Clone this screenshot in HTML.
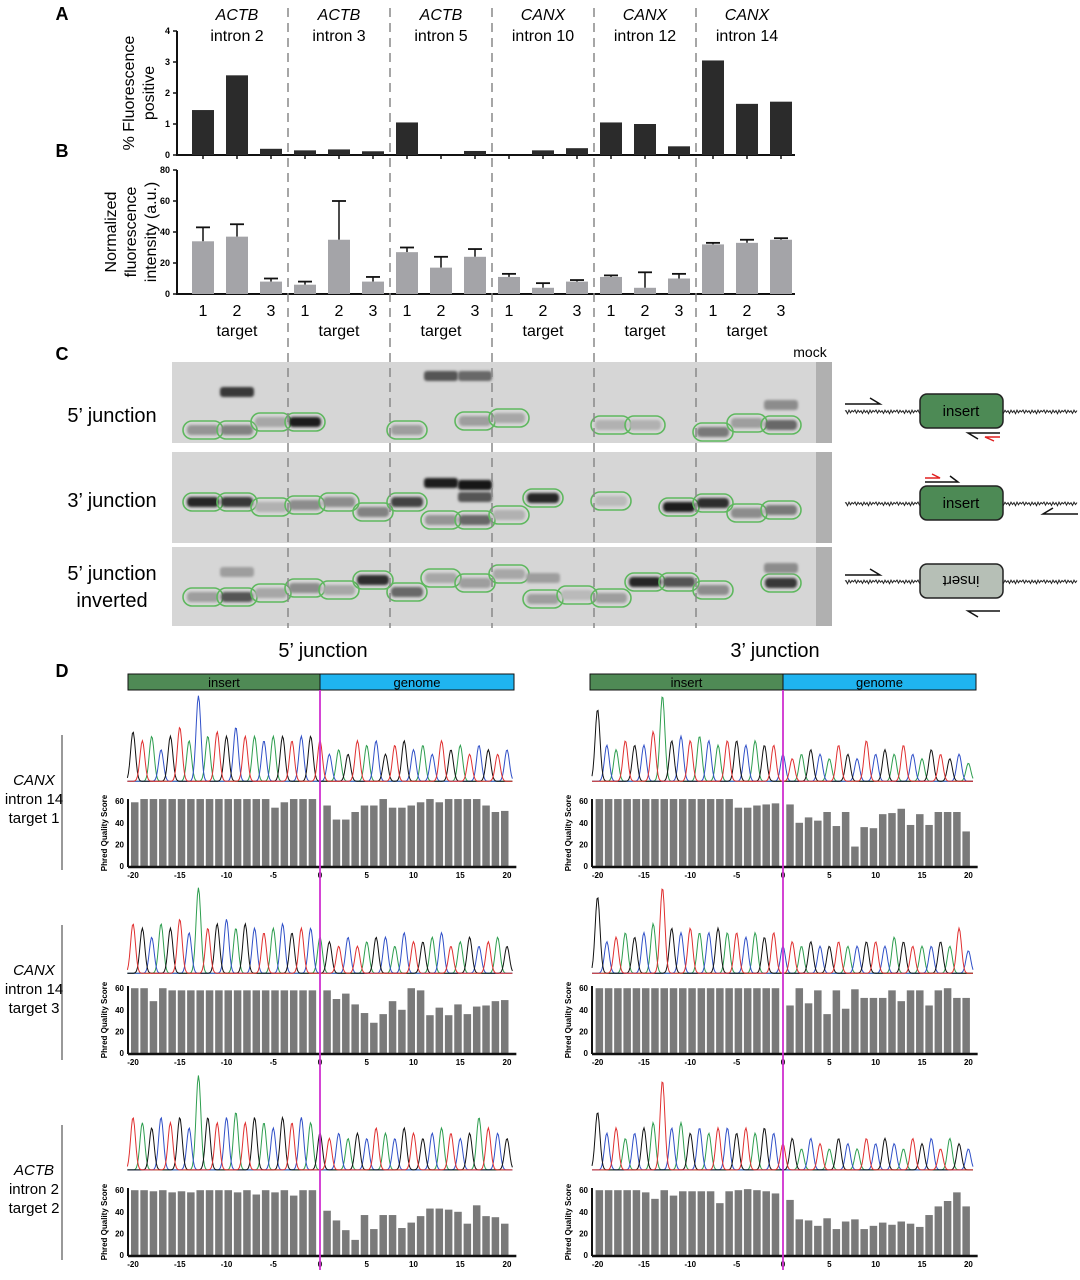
<!DOCTYPE html>
<html><head><meta charset="utf-8"><style>
html,body{margin:0;padding:0;background:#fff;}
svg{display:block;font-family:"Liberation Sans",sans-serif;}
</style></head><body>
<svg id="fig" width="1080" height="1280" viewBox="0 0 1080 1280" xmlns="http://www.w3.org/2000/svg">
<defs><filter id="blur" x="-20%" y="-50%" width="140%" height="200%"><feGaussianBlur stdDeviation="1.2"/></filter></defs>
<g id="gA"></g>
<g id="gB"></g>
<g id="gC"></g>
<g id="gD"></g>
<g id="gT"></g>
</svg>
<script>
const groupNames=[["ACTB","intron 2"],["ACTB","intron 3"],["ACTB","intron 5"],["CANX","intron 10"],["CANX","intron 12"],["CANX","intron 14"]];
const pctPositive=[1.45,2.57,0.2,0.15,0.18,0.12,1.05,0,0.13,0,0.15,0.22,1.05,1.0,0.28,3.05,1.65,1.72];
const normIntensity=[34,37,8,6,35,8,27,17,24,11,4,8,11,4,10,32,33,35];
const normErrTop=[43,45,10,8,60,11,30,24,29,13,7,9,12,14,13,33,35,36];
const ticksA=[0,1,2,3,4];
const ticksB=[0,20,40,60,80];
const gel1Ovals=[[1,430],[2,430],[3,422],[4,422],[7,430],[9,421],[10,418],[13,425],[14,425],[16,432],[17,423],[18,425]];
const gel1Dark=[0.25,0.35,0.15,0.9,0.05,0.05,0.2,0.05,0.2,0.15,0.05,0.05,0.1,0.1,0.05,0.4,0.2,0.5];
const gel2Ovals=[[1,502],[2,502],[3,507],[4,505],[5,502],[6,512],[7,502],[8,520],[9,520],[10,515],[11,498],[13,501],[15,507],[16,503],[17,513],[18,510]];
const gel2Dark=[0.85,0.75,0.1,0.3,0.3,0.35,0.7,0.25,0.5,0.1,0.85,0.3,0.05,0.05,0.9,0.8,0.3,0.4];
const gel3Ovals=[[1,597],[2,597],[3,593],[4,588],[5,590],[6,580],[7,592],[8,578],[9,583],[10,574],[11,599],[12,595],[13,598],[14,582],[15,582],[16,590],[18,583]];
const gel3Dark=[0.2,0.6,0.15,0.3,0.15,0.8,0.5,0.15,0.2,0.15,0.2,0.05,0.2,0.85,0.6,0.3,0.05,0.75];
const phredL1=[59,62,62,62,62,62,62,62,62,62,62,62,62,62,62,54,59,62,62,62,56,43,43,50,56,56,62,54,54,56,59,62,59,62,62,62,62,56,50,51];
const phredR1=[62,62,62,62,62,62,62,62,62,62,62,62,62,62,62,54,54,56,57,58,57,40,45,42,50,37,50,18,36,35,48,49,53,38,48,38,50,50,50,32];
const phredL2=[60,60,48,60,58,58,58,58,58,58,58,58,58,58,58,58,58,58,58,58,58,50,55,45,37,28,36,48,40,60,58,35,42,35,45,36,43,44,48,49];
const phredR2=[60,60,60,60,60,60,60,60,60,60,60,60,60,60,60,60,60,60,60,60,44,60,46,58,36,58,41,59,51,51,51,58,48,58,58,44,58,60,51,51];
const phredL3=[60,60,59,60,58,59,58,60,60,60,60,58,60,56,60,58,60,55,60,60,41,32,23,14,37,24,37,37,25,30,36,43,43,42,40,29,46,36,35,29];
const phredR3=[60,60,60,60,60,58,52,60,55,59,59,59,59,48,59,60,61,60,59,57,51,33,32,27,34,24,31,33,24,27,30,28,31,29,26,37,45,50,58,45];
const phredTicksY=[0,20,40,60];
const phredTicksX=[-20,-15,-10,-5,0,5,10,15,20];
const seqL1="GTACGTACATGCTACAGTCGTCAGTACGTGCACTGATCGTCA";
const seqR1="GCATGCTAGCTACATGCAGTCTAGCATGCTCGATCAGTGCA";
const seqL2="TGCAGTCATGCAGCTACGTCAGTCTAGCACTGACTAGCTAG";
const seqR2="GCTAGCATGCTACGATCAGTCTAGCGTACGTCAGTACGATC";
const seqL3="TAGCTGCAGTCATGACGTCAGTCAGCTACGTGCATCGATCG";
const seqR3="GCTACGATCAGCATCGTAGCTGACTAGCATCGCATGCTAGC";
const ampL1=[.55,.45,.5,.35,.5,.6,.45,.95,.5,.55,.5,.6,.5,.5,.45,.5,.5,.45,.5,.5,.45,.3,.35,.3,.45,.4,.45,.3,.4,.45,.35,.4,.3,.45,.35,.4,.3,.4,.35,.3,.35];
const ampR1=[.8,.4,.35,.45,.4,.4,.55,.95,.45,.5,.45,.5,.45,.4,.45,.45,.4,.45,.4,.4,.3,.25,.3,.35,.3,.25,.4,.3,.25,.45,.3,.35,.3,.4,.3,.25,.35,.3,.25,.3,.2];
const ampL2=[.55,.5,.4,.55,.5,.6,.45,.95,.5,.55,.6,.5,.55,.5,.45,.5,.55,.45,.5,.5,.4,.35,.3,.4,.3,.35,.4,.4,.3,.45,.35,.35,.4,.45,.3,.35,.4,.3,.35,.4,.3];
const ampR2=[.85,.35,.4,.45,.4,.45,.55,.95,.5,.45,.5,.45,.45,.5,.45,.45,.4,.45,.4,.45,.3,.35,.3,.35,.3,.3,.35,.3,.3,.35,.35,.3,.4,.35,.3,.3,.3,.35,.3,.5,.25];
const ampL3=[.5,.45,.4,.5,.45,.5,.4,.9,.5,.45,.5,.55,.45,.5,.45,.4,.5,.45,.5,.45,.35,.3,.35,.3,.35,.3,.4,.35,.3,.4,.35,.3,.35,.4,.35,.3,.35,.5,.4,.35,.3];
const ampR3=[.55,.35,.4,.3,.35,.4,.45,.85,.4,.45,.35,.4,.35,.4,.4,.35,.4,.35,.4,.35,.25,.3,.2,.3,.25,.2,.3,.25,.2,.3,.25,.3,.25,.2,.3,.25,.3,.2,.3,.25,.2];

const NS="http://www.w3.org/2000/svg";
function mk(parent,tag,attrs,txt){const e=document.createElementNS(NS,tag);for(const k in attrs)e.setAttribute(k,attrs[k]);if(txt!==undefined)e.textContent=txt;parent.appendChild(e);return e;}
const gA=document.getElementById('gA'),gB=document.getElementById('gB'),gC=document.getElementById('gC'),gD=document.getElementById('gD'),gT=document.getElementById('gT');
const barX=k=>203+34*k;

// Panel A
const yA=v=>155-v*31;
mk(gA,'line',{x1:177,y1:31,x2:177,y2:156,stroke:'#111','stroke-width':2});
mk(gA,'line',{x1:176,y1:155,x2:795,y2:155,stroke:'#111','stroke-width':2});
ticksA.forEach(t=>{mk(gA,'line',{x1:173,y1:yA(t),x2:177,y2:yA(t),stroke:'#111','stroke-width':1.5});
 const tl=mk(gA,'text',{x:170,y:yA(t)+3,'font-size':9,'font-weight':'bold','text-anchor':'end'},t);
 });
pctPositive.forEach((v,k)=>{const r=mk(gA,'rect',{x:barX(k)-11,y:yA(v),width:22,height:155-yA(v),fill:'#2b2b2b'});
 
 mk(gA,'line',{x1:barX(k),y1:155,x2:barX(k),y2:159,stroke:'#111','stroke-width':1.5});});
const ya=mk(gA,'text',{transform:'translate(134,93) rotate(-90)','font-size':16,'text-anchor':'middle'});

mk(ya,'tspan',{x:0,dy:0},'% Fluorescence');mk(ya,'tspan',{x:0,dy:20},'positive');
groupNames.forEach((g,i)=>{const cx=barX(3*i+1);
 const t1=mk(gA,'text',{x:cx,y:20,'font-size':16,'font-style':'italic','text-anchor':'middle'},g[0]);
 
 const t2=mk(gA,'text',{x:cx,y:41,'font-size':16,'text-anchor':'middle'},g[1]);
 });

// Panel B
const yB=v=>294-v*1.55;
mk(gB,'line',{x1:177,y1:170,x2:177,y2:295,stroke:'#111','stroke-width':2});
mk(gB,'line',{x1:176,y1:294,x2:795,y2:294,stroke:'#111','stroke-width':2});
ticksB.forEach(t=>{mk(gB,'line',{x1:173,y1:yB(t),x2:177,y2:yB(t),stroke:'#111','stroke-width':1.5});
 const tl=mk(gB,'text',{x:170,y:yB(t)+3,'font-size':9,'font-weight':'bold','text-anchor':'end'},t);
 });
normIntensity.forEach((v,k)=>{const x=barX(k);
 mk(gB,'line',{x1:x,y1:yB(v),x2:x,y2:yB(normErrTop[k]),stroke:'#111','stroke-width':1.5});
 mk(gB,'line',{x1:x-7,y1:yB(normErrTop[k]),x2:x+7,y2:yB(normErrTop[k]),stroke:'#111','stroke-width':1.8});
 const r=mk(gB,'rect',{x:x-11,y:yB(v),width:22,height:294-yB(v),fill:'#a4a4a8'});
 
 const tl=mk(gB,'text',{x:x,y:316,'font-size':16,'text-anchor':'middle'},(k%3)+1);
 
 if(k%3==1){const tt=mk(gB,'text',{x:x,y:336,'font-size':16,'text-anchor':'middle'},'target');
  }});
const yb=mk(gB,'text',{transform:'translate(116,232) rotate(-90)','font-size':16,'text-anchor':'middle'});

mk(yb,'tspan',{x:0,dy:0},'Normalized');mk(yb,'tspan',{x:0,dy:20},'fluorescence');mk(yb,'tspan',{x:0,dy:20},'intensity (a.u.)');

// Panel C gels
function gel(y0,y1,ovals,dark,extra){
 const r=mk(gC,'rect',{x:172,y:y0,width:660,height:y1-y0,fill:'#d6d6d6'});
 
 mk(gC,'rect',{x:816,y:y0,width:16,height:y1-y0,fill:'#b0b0b0'});
 ovals.forEach(([lane,y],i)=>{const x=barX(lane-1);const d=dark[lane-1];
  const c=Math.round(195-d*185);
  mk(gC,'rect',{x:x-16,y:y-5,width:32,height:10,rx:4,fill:`rgb(${c},${c},${c})`,filter:'url(#blur)'});
  const o=mk(gC,'rect',{x:x-20,y:y-9,width:40,height:18,rx:9,fill:'none',stroke:'#5fb85f','stroke-width':1.6});
  });
 extra.forEach(([lane,y,d])=>{const x=barX(lane-1);const c=Math.round(195-d*185);
  mk(gC,'rect',{x:x-17,y:y-5,width:34,height:10,rx:3,fill:`rgb(${c},${c},${c})`,filter:'url(#blur)'});});
}
gel(362,443,gel1Ovals,gel1Dark,[[2,392,0.75],[8,376,0.6],[9,376,0.5],[18,405,0.3]]);
gel(452,543,gel2Ovals,gel2Dark,[[8,483,0.9],[9,485,0.95],[9,497,0.6]]);
gel(547,626,gel3Ovals,gel3Dark,[[2,572,0.2],[11,578,0.2],[18,568,0.3]]);
for(let i=1;i<=5;i++){const x=barX(3*i)-17;
 const dl=mk(gC,'line',{x1:x,y1:8,x2:x,y2:628,stroke:'#888','stroke-width':1.5,'stroke-dasharray':'9,6'});
 }
[['5’ junction',415],['3’ junction',500],['5’ junction',573],['inverted',600]].forEach(([t,y])=>{
 const e=mk(gC,'text',{x:112,y:y+7,'font-size':20,'text-anchor':'middle'},t);
 });
const mock=mk(gC,'text',{x:810,y:357,'font-size':14,'text-anchor':'middle'},'mock');

// diagrams
function diagram(cy,fill,inv){
 let d='M845 '+cy;
 for(let x=846;x<1078;x+=1.5){const amp=(x<920||x>1003)?(0.8+((x*13)%7)/3.5):0;const s=(Math.round(x/1.5)%2)?1:-1;d+=' L'+x+' '+(cy+s*amp*((x*7)%3+1)/2.5).toFixed(1);}
 mk(gC,'path',{d:d,stroke:'#222','stroke-width':1,fill:'none'});
 const b=mk(gC,'rect',{x:920,y:cy-17,width:83,height:34,rx:7,fill:fill,stroke:'#222','stroke-width':1.5});
 
 const t=mk(gC,'text',{x:961,y:cy+5,'font-size':15,'text-anchor':'middle',transform:inv?`rotate(180 961 ${cy})`:''},'insert');
 
}
diagram(411,'#4d8a55',false);diagram(503,'#4d8a55',false);diagram(581,'#b6bfb6',true);
const arr=(d,c)=>mk(gC,'path',{d:d,stroke:c,'stroke-width':1.5,fill:'none'});
arr('M845 404 L880 404 L870 398','#111');arr('M1000 433 L968 433 L978 439','#111');arr('M1000 437 L985 437 L994 441','#e02020');
arr('M925 482 L958 482 L950 476','#111');arr('M925 478 L940 478 L932 474','#e02020');arr('M1078 514 L1043 514 L1053 508','#111');
arr('M845 575 L880 575 L870 569','#111');arr('M1000 611 L968 611 L978 617','#111');

// Panel D
const xL=p=>320+p*9.35, xR=p=>783+p*9.27;
const rows=[{pb:866,cb:783,lab:['CANX','intron 14','target 1'],ly:785,L:phredL1,R:phredR1,sL:seqL1,sR:seqR1,aL:ampL1,aR:ampR1,ch:90},
 {pb:1053,cb:975,lab:['CANX','intron 14','target 3'],ly:975,L:phredL2,R:phredR2,sL:seqL2,sR:seqR2,aL:ampL2,aR:ampR2,ch:90},
 {pb:1255,cb:1172,lab:['ACTB','intron 2','target 2'],ly:1175,L:phredL3,R:phredR3,sL:seqL3,sR:seqR3,aL:ampL3,aR:ampR3,ch:105}];
const colors={A:'#2e9e4f',C:'#3050c8',G:'#111',T:'#e03030'};
function phred(xs,y0,vals,axisX){
 const ys=v=>y0-v*1.08;
 const pos=[];for(let p=-20;p<=-1;p++)pos.push(p);for(let p=1;p<=20;p++)pos.push(p);
 vals.forEach((v,i)=>{const r=mk(gD,'rect',{x:xs(pos[i])-4+(pos[i]<0?4:-4)*0.5,y:ys(v),width:7.5,height:v*1.08,fill:'#7a7a7a'});
  });
 mk(gD,'line',{x1:axisX,y1:y0-67,x2:axisX,y2:y0+1,stroke:'#111','stroke-width':2});
 mk(gD,'line',{x1:axisX,y1:y0+1,x2:xs(21),y2:y0+1,stroke:'#111','stroke-width':2.5});
 phredTicksY.forEach(t=>{const e=mk(gD,'text',{x:axisX-4,y:ys(t)+3,'font-size':8,'font-weight':'bold','text-anchor':'end'},t);
  });
 phredTicksX.forEach(t=>{const e=mk(gD,'text',{x:xs(t),y:y0+12,'font-size':8,'font-weight':'bold','text-anchor':'middle'},t);
  });
 const yl=mk(gD,'text',{transform:`translate(${axisX-21},${y0-33}) rotate(-90)`,'font-size':8,'font-weight':'bold','text-anchor':'middle'},'Phred Quality Score');
 
}
function chrom(xs,base,seq,amp,h){
 ['A','C','G','T'].forEach(b=>{let d='';
  for(let x=xs(-20.6);x<=xs(20.6);x+=1){let y=0.02;
   for(let i=0;i<41;i++){if(seq[i]!==b)continue;const px=xs(i-20);const dx=(x-px)/3.4;y+=amp[i]*Math.exp(-dx*dx);}
   d+=(d?'L':'M')+x.toFixed(1)+' '+(base-y*h).toFixed(1);}
  const p=mk(gD,'path',{d:d,fill:'none',stroke:colors[b],'stroke-width':1});
  });
}
rows.forEach(r=>{
 chrom(xL,r.cb,r.sL,r.aL,r.ch);chrom(xR,r.cb,r.sR,r.aR,r.ch);
 phred(xL,r.pb,r.L,128);phred(xR,r.pb,r.R,592);
 r.lab.forEach((t,i)=>{const e=mk(gD,'text',{x:34,y:r.ly+i*19,'font-size':15,'text-anchor':'middle','font-style':i==0?'italic':'normal'},t);
  });
 mk(gD,'line',{x1:62,y1:r.ly-50,x2:62,y2:r.ly+85,stroke:'#333','stroke-width':1});
});
[[128,320,514],[590,783,976]].forEach(([a,m,b])=>{
 const i=mk(gD,'rect',{x:a,y:674,width:m-a,height:16,fill:'#4f8a55',stroke:'#111','stroke-width':1});
 
 const g=mk(gD,'rect',{x:m,y:674,width:b-m,height:16,fill:'#1fb4f0',stroke:'#111','stroke-width':1});
 
 mk(gD,'text',{x:(a+m)/2,y:687,'font-size':13,'text-anchor':'middle'},'insert');
 mk(gD,'text',{x:(m+b)/2,y:687,'font-size':13,'text-anchor':'middle'},'genome');
 const ml=mk(gD,'line',{x1:m,y1:690,x2:m,y2:1270,stroke:'#d030d0','stroke-width':1.8});
 
});
[['5’ junction',323],['3’ junction',775]].forEach(([t,x])=>{const e=mk(gD,'text',{x:x,y:657,'font-size':20,'text-anchor':'middle'},t);
 });

[['A',62,20],['B',62,157],['C',62,360],['D',62,677]].forEach(([t,x,y])=>{const e=mk(gT,'text',{x:x,y:y,'font-size':18,'font-weight':'bold','text-anchor':'middle'},t);
 });
</script>
</body></html>
